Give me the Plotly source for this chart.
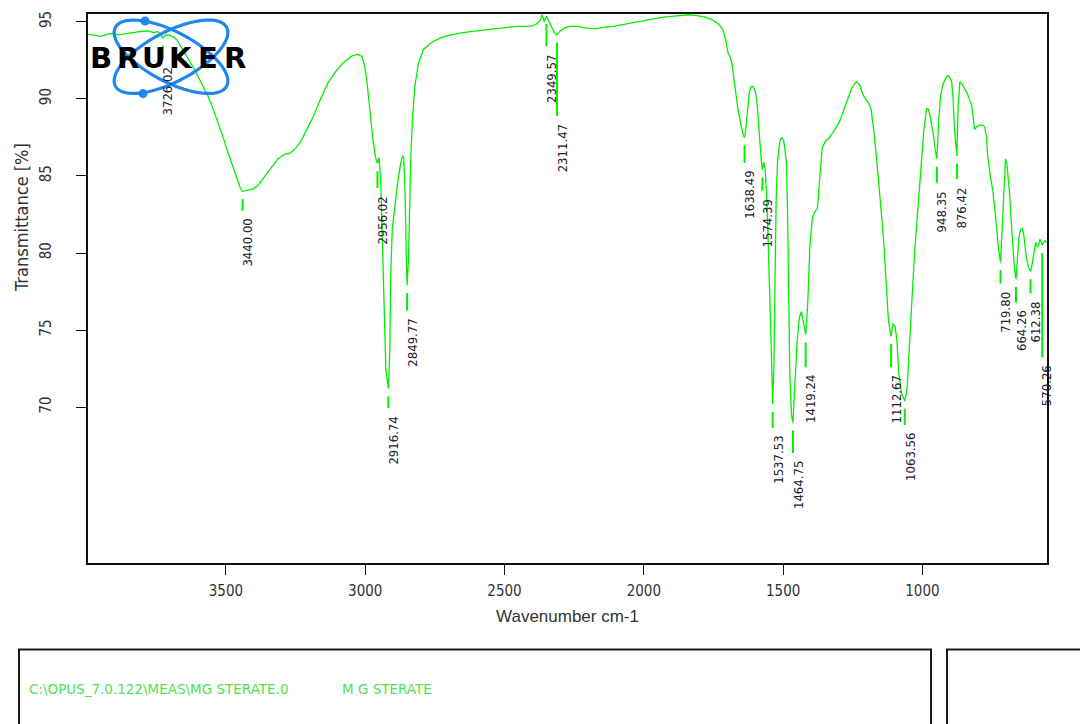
import numpy as np
import plotly.graph_objects as go

# ---- spectrum: wavenumber (cm-1) and transmittance (%) ----
wavenumber = [
    3995, 3975, 3949, 3925, 3902, 3885, 3866, 3840, 3810, 3780, 3760, 3745, 3735, 3726.02, 3715,
    3700, 3687, 3675, 3662, 3640, 3616, 3590, 3565, 3545, 3529, 3510, 3494, 3475, 3458, 3448,
    3440.00, 3425, 3405, 3386, 3368, 3350, 3332, 3314, 3290, 3268, 3250, 3232, 3210, 3185, 3160,
    3135, 3105, 3078, 3050, 3028, 3012, 3003, 2995, 2988, 2981, 2972, 2963, 2956.02, 2950, 2944,
    2938, 2932, 2926, 2916.74, 2912, 2908, 2903, 2897, 2890, 2884, 2873, 2866, 2862, 2857, 2853,
    2849.77, 2845, 2841, 2836, 2830, 2822, 2809, 2791, 2766, 2735, 2705, 2665, 2623, 2575, 2526,
    2490, 2454, 2420, 2397, 2385, 2372, 2365, 2358, 2349.57, 2340, 2330, 2320, 2311.47, 2300, 2285,
    2265, 2240, 2218, 2195, 2168, 2140, 2110, 2080, 2049, 2020, 1988, 1960, 1931, 1900, 1870,
    1840, 1809, 1780, 1752, 1735, 1716, 1706, 1698, 1690, 1684, 1673, 1662, 1650, 1643, 1638.49,
    1634, 1628, 1622, 1615, 1608, 1600, 1594, 1590, 1585, 1580, 1577, 1574.39, 1570, 1565, 1560,
    1555, 1549, 1543, 1537.53, 1533, 1529, 1525, 1520, 1512, 1505, 1498, 1493, 1488, 1484, 1480,
    1476, 1470, 1464.75, 1458, 1450, 1442, 1435, 1428, 1419.24, 1412, 1404, 1395, 1385, 1377, 1370,
    1360, 1347, 1338, 1330, 1314, 1296, 1279, 1265, 1254, 1243, 1236, 1225, 1214, 1205, 1196,
    1185, 1175, 1165, 1153, 1140, 1130, 1122, 1112.67, 1106, 1099, 1092, 1085, 1075, 1063.56, 1055,
    1048, 1038, 1028, 1017, 1003, 995, 985, 978, 970, 962, 955, 948.35, 942, 935, 927,
    918, 910, 902, 895, 890, 885, 880, 876.42, 872, 866, 859, 850, 838, 830, 824,
    818, 813, 805, 795, 785, 777, 770, 766, 758, 748, 740, 734, 727, 719.80, 714,
    710, 706, 702, 697, 692, 687, 682, 676, 670, 664.26, 659, 654, 648, 641, 635,
    628, 620, 612.38, 606, 600, 594, 588, 583, 578, 573, 570.26, 565, 560, 553,
]
transmittance = [
    94.2, 94.15, 94.05, 94.2, 94.25, 94.15, 94.2, 94.3, 94.35, 94.4, 94.3, 94.35, 94.2, 93.95, 94.15,
    94.1, 94.0, 93.8, 93.4, 92.8, 92.0, 91.1, 90.2, 89.3, 88.5, 87.5, 86.6, 85.6, 84.7, 84.2,
    84.0, 84.05, 84.15, 84.35, 84.8, 85.2, 85.7, 86.1, 86.4, 86.5, 86.8, 87.2, 88.0, 88.9, 90.0,
    91.0, 91.8, 92.35, 92.75, 92.9, 92.75, 92.2, 91.3, 90.0, 88.7, 87.3, 86.2, 85.8, 86.2, 84.5,
    80.5, 76.5, 72.5, 71.2, 73.5, 78.8, 81.5, 82.5, 83.6, 84.5, 85.8, 86.3, 86.2, 84.0, 80.0,
    77.9, 79.5, 83.5, 86.5, 88.8, 90.8, 92.3, 93.2, 93.6, 93.9, 94.1, 94.25, 94.35, 94.45, 94.55,
    94.6, 94.7, 94.7, 94.75, 94.85, 95.1, 95.45, 95.0, 95.35, 95.0, 94.6, 94.25, 94.15, 94.4, 94.6,
    94.7, 94.7, 94.65, 94.55, 94.55, 94.65, 94.7, 94.8, 94.9, 95.0, 95.1, 95.2, 95.3, 95.35, 95.4,
    95.45, 95.4, 95.3, 95.1, 94.9, 94.5, 93.8, 93.0, 92.7, 92.3, 90.6, 89.3, 88.2, 87.6, 87.5,
    88.0, 89.2, 90.4, 90.8, 90.8, 90.5, 89.8, 88.8, 87.6, 86.0, 85.7, 85.4, 85.9, 85.5, 84.0,
    81.6, 78.3, 74.0, 70.2, 72.8, 78.5, 83.5, 86.0, 87.2, 87.5, 87.3, 86.6, 85.8, 82.5, 76.5,
    72.0, 69.5, 69.0, 71.5, 74.2, 75.8, 76.2, 75.6, 74.7, 76.6, 80.5, 82.3, 82.7, 82.9, 84.7,
    86.8, 87.3, 87.4, 87.6, 88.0, 88.6, 89.5, 90.2, 90.7, 91.0, 91.1, 90.9, 90.3, 90.0, 89.8,
    89.4, 88.0, 86.2, 83.8, 81.0, 78.0, 75.6, 74.6, 75.4, 75.3, 74.4, 72.2, 70.9, 70.4, 71.2,
    73.6, 77.3, 80.1, 82.7, 86.3, 88.0, 89.4, 89.3, 88.6, 87.8, 86.8, 86.1, 88.5, 90.2, 90.9,
    91.3, 91.5, 91.4, 91.1, 90.0, 88.0, 86.8, 86.3, 89.5, 91.1, 91.0, 90.7, 90.3, 89.9, 89.6,
    88.8, 88.0, 88.2, 88.3, 88.3, 88.2, 87.5, 86.3, 85.2, 84.1, 82.8, 81.6, 80.3, 79.4, 81.5,
    83.8, 85.3, 86.1, 85.8, 84.8, 83.8, 82.2, 80.3, 79.0, 78.3, 79.6, 81.0, 81.5, 81.6, 81.0,
    79.8, 79.1, 78.8, 79.3, 80.0, 80.7, 80.4, 80.5, 80.9, 80.6, 80.5, 80.7, 80.8, 80.7,
]

# ---- picked peaks ----
peaks = [3726.02, 3440.00, 2956.02, 2916.74, 2849.77, 2349.57, 2311.47, 1638.49, 1574.39,
         1537.53, 1464.75, 1419.24, 1112.67, 1063.56, 948.35, 876.42, 719.80, 664.26,
         612.38, 570.26]

x_ticks = [3500, 3000, 2500, 2000, 1500, 1000]
y_ticks = [70, 75, 80, 85, 90, 95]

# layout: transmittance level where each peak label starts (top of the rotated text)
label_top = [92.16, 82.34, 83.82, 69.55, 75.88, 93.0, 88.48, 85.44, 83.63,
             68.26, 66.64, 72.2, 72.2, 68.45, 84.15, 84.4, 77.62, 76.4,
             76.98, 72.84]

GREEN = "#00f000"
TXT = "#24222c"
NARROW = "DejaVu Sans Condensed, Liberation Sans Narrow, sans-serif"

X_RANGE = [3995, 553]
Y_RANGE = [59.9, 95.5]

# plot area in pixels
L, R, T, B = 88, 1047, 11, 563
W, H = 1080, 724


def px(x):
    return (x - L) / (R - L)


def py(y):
    return (B - y) / (B - T)


wn = np.array(wavenumber)
tr = np.array(transmittance)
order = np.argsort(wn)
peak_t = np.interp(peaks, wn[order], tr[order])

fig = go.Figure()

fig.add_trace(go.Scatter(
    x=wavenumber, y=transmittance, mode="lines",
    line=dict(color=GREEN, width=1.3), hoverinfo="skip", showlegend=False,
))

# dashed peak markers between the band and its label
mx, my = [], []
for p, pt, lt in zip(peaks, peak_t, label_top):
    top = pt - 0.5
    bot = lt + 0.4
    if bot < top:
        mx += [p, p, None]
        my += [top, bot, None]
fig.add_trace(go.Scatter(
    x=mx, y=my, mode="lines", line=dict(color=GREEN, width=2),
    hoverinfo="skip", showlegend=False,
))

annotations = []
for p, lt in zip(peaks, label_top):
    annotations.append(dict(
        x=p, y=lt, xref="x", yref="y", text=f"{p:.2f}", showarrow=False,
        textangle=-90, xanchor="center", yanchor="top", xshift=5,
        font=dict(family=NARROW, size=13, color=TXT),
    ))

# BRUKER logo: two crossing orbits, two electrons and the lettering
shapes = []
cx, cy, a, b = 171, 54, 63, 25
for ang in (28, -28):
    th = np.radians(ang)
    t = np.linspace(0, 2 * np.pi, 90)
    ex = cx + a * np.cos(t) * np.cos(th) - b * np.sin(t) * np.sin(th)
    ey = cy + a * np.cos(t) * np.sin(th) + b * np.sin(t) * np.cos(th)
    path = "M " + " L ".join(f"{px(u):.5f},{py(v):.5f}" for u, v in zip(ex, ey)) + " Z"
    shapes.append(dict(type="path", path=path, xref="paper", yref="paper",
                       line=dict(color="#2286ef", width=3.2), layer="above"))
for dx, dy in ((145, 18), (143, 91)):
    shapes.append(dict(type="circle", xref="paper", yref="paper",
                       x0=px(dx - 4.5), x1=px(dx + 4.5), y0=py(dy + 4.5), y1=py(dy - 4.5),
                       fillcolor="#2286ef", line=dict(width=0), layer="above"))
for i, ch in enumerate("BRUKER"):
    annotations.append(dict(
        x=px(101 + i * 26.7), y=py(55), xref="paper", yref="paper", text=f"<b>{ch}</b>",
        showarrow=False, xanchor="center", yanchor="middle",
        font=dict(family="DejaVu Sans", size=29, color="#000000"),
    ))

# axis caption on the left, placed like the OPUS printout
annotations.append(dict(
    x=px(22), y=py(216), xref="paper", yref="paper", text="Transmittance [%]",
    showarrow=False, textangle=-90, xanchor="center", yanchor="middle",
    font=dict(family=NARROW, size=18, color="#333"),
))

# info boxes under the chart
shapes.append(dict(type="rect", xref="paper", yref="paper",
                   x0=px(19), x1=px(931), y0=py(650), y1=py(760),
                   line=dict(color="#1a1a1a", width=2)))
shapes.append(dict(type="rect", xref="paper", yref="paper",
                   x0=px(947), x1=px(1120), y0=py(650), y1=py(760),
                   line=dict(color="#1a1a1a", width=2)))
annotations.append(dict(
    x=px(27), y=py(690), xref="paper", yref="paper",
    text=r"C:\OPUS_7.0.122\MEAS\MG STERATE.0", showarrow=False,
    xanchor="left", yanchor="middle",
    font=dict(family="DejaVu Sans", size=13.5, color="#52e052"),
))
annotations.append(dict(
    x=px(340), y=py(690), xref="paper", yref="paper",
    text="M G STERATE", showarrow=False, xanchor="left", yanchor="middle",
    font=dict(family="DejaVu Sans", size=13.5, color="#52e052"),
))

fig.update_layout(
    width=W, height=H,
    margin=dict(l=L, r=W - R, t=T, b=H - B),
    paper_bgcolor="white", plot_bgcolor="white",
    shapes=shapes, annotations=annotations,
    xaxis=dict(
        range=X_RANGE, tickvals=x_ticks, ticktext=[str(v) for v in x_ticks],
        showgrid=False, zeroline=False, showline=True, mirror=True,
        linecolor="#111", linewidth=2, ticks="outside", ticklen=10, tickwidth=1,
        tickcolor="#111", ticklabelstandoff=3,
        tickfont=dict(family=NARROW, size=15, color="#333"),
        title=dict(text="Wavenumber cm-1", standoff=11,
                   font=dict(family="Liberation Sans, Arial, sans-serif", size=17, color="#333")),
    ),
    yaxis=dict(
        range=Y_RANGE, tickvals=y_ticks, ticktext=[str(v) for v in y_ticks],
        showgrid=False, zeroline=False, showline=True, mirror=True,
        linecolor="#111", linewidth=2, ticks="outside", ticklen=10, tickwidth=1,
        tickcolor="#111", tickangle=-90, ticklabelstandoff=19,
        tickfont=dict(family=NARROW, size=15, color="#333"),
    ),
)

fig.write_html("out.html")
